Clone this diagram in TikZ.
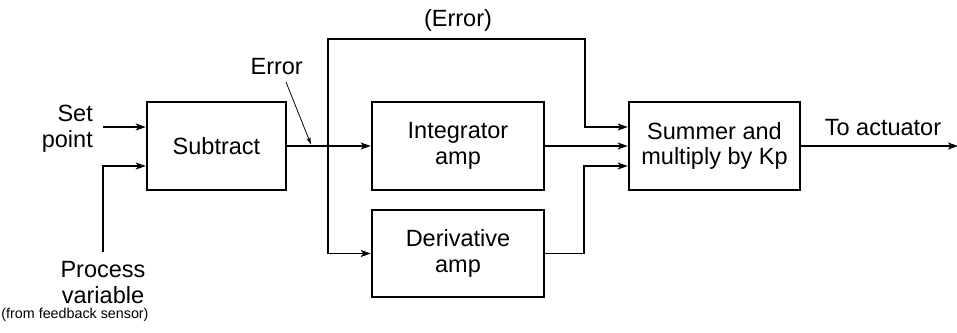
\documentclass[tikz,border=0pt]{standalone}
\usepackage{fontspec}
\setmainfont{Liberation Sans}
\usetikzlibrary{arrows.meta,calc}
\begin{document}
\begin{tikzpicture}[x=1pt,y=-1pt,
  blk/.style={draw,line width=2.5pt,inner sep=0pt,align=center,font=\fontsize{23.5}{25.5}\selectfont},
  lbl/.style={inner sep=0pt,font=\fontsize{23.5}{25.5}\selectfont},
  small/.style={inner sep=0pt,font=\fontsize{14.3}{17}\selectfont},
  wire/.style={line width=1.3pt},
  arr/.style={wire,-{Stealth[length=10pt,width=7pt,inset=2.5pt]}},
  thinarr/.style={line width=0.8pt,-{Stealth[length=7pt,width=4pt,inset=1.5pt]}}]
\useasboundingbox (0,0) rectangle (957,332);
% blocks
\node[blk,minimum width=139pt,minimum height=88pt] (sub) at (216.5,146) {Subtract};
\node[blk,minimum width=172pt,minimum height=88pt] (int) at (458,146) {Integrator\\amp};
\node[blk,minimum width=172pt,minimum height=87pt] (der) at (458,253.5) {Derivative\\amp};
\node[blk,minimum width=171pt,minimum height=88pt] (sum) at (714.5,146) {Summer and\\multiply by Kp};
% labels
\node[lbl,align=right,anchor=east] (sp) at (93,128.6) {Set\\point};
\node[lbl,align=center] (pv) at (103,282.5) {Process\\variable};
\node[small,anchor=base] (fb) at (75,318) {(from feedback sensor)};
\node[lbl,anchor=base east] (err) at (303,74) {Error};
\node[lbl,anchor=base] (perr) at (458,26) {(Error)};
\node[lbl,anchor=base] (act) at (883,135) {To actuator};
% coordinates
\coordinate (spa) at (103,127);
\coordinate (pvb) at (103,252);
\coordinate (br) at (328,146);
\coordinate (topr) at (585,39);
\coordinate (bend) at (584,166);
\coordinate (out) at (958,146);
\coordinate (ep1) at (286,82);
\coordinate (ep2) at (311,144.5);
% connectors
\draw[arr] (spa) -- (spa -| sub.west);
\draw[arr] (pvb) |- ($(sub.west)+(0,20)$);
\draw[wire] (sub.east) -- (br);
\draw[arr] (br) -- (int.west);
\draw[arr] (br) |- (topr) |- ($(sum.west)+(0,-19)$);
\draw[arr] (br) |- (der.west);
\draw[arr] (int.east) -- (sum.west);
\draw[arr] (der.east) -| (bend) -- ($(sum.west)+(0,20)$);
\draw[arr] (sum.east) -- (out);
\draw[thinarr] (ep1) -- (ep2);
\end{tikzpicture}
\end{document}
